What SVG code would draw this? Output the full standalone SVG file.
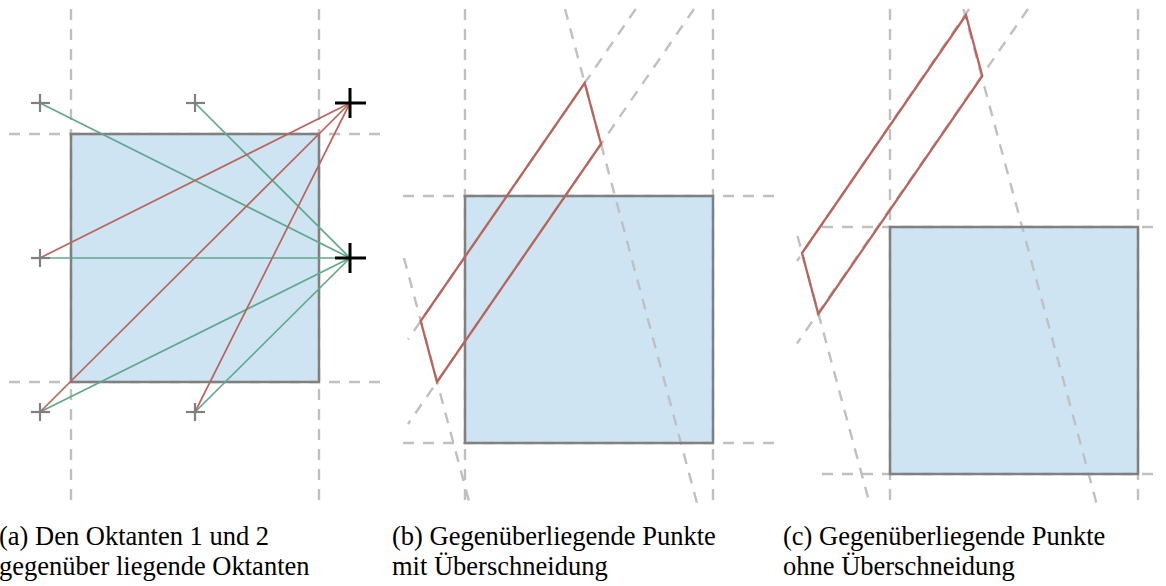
<svg xmlns="http://www.w3.org/2000/svg" width="1166" height="586" viewBox="0 0 1166 586">
<style>
.fill{fill:#cfe4f2;stroke:none}
.box{fill:none;stroke:#808080;stroke-width:2.5}
.dash{fill:none;stroke:#c0c0c0;stroke-width:2.4;stroke-dasharray:11 9}
.red{fill:none;stroke:#b8655c;stroke-width:1.7}
.grn{fill:none;stroke:#5fa98a;stroke-width:1.7}
.poly{fill:none;stroke:#b8655c;stroke-width:2.3;stroke-linejoin:miter}
.sx{stroke:#808080;stroke-width:2.2}
.bx{stroke:#000;stroke-width:3}
.cap{font-family:"Liberation Serif","Times New Roman",serif;font-size:26.5px;fill:#000}
</style>
<rect width="1166" height="586" fill="#fff"/>

<g id="panel-a">
  <rect class="fill" x="71" y="134" width="248" height="248"/>
  <g class="dash">
    <line x1="71" y1="9" x2="71" y2="505"/>
    <line x1="319" y1="9" x2="319" y2="505"/>
    <line x1="9" y1="134" x2="382" y2="134"/>
    <line x1="9" y1="382" x2="382" y2="382"/>
  </g>
  <rect class="box" x="71" y="134" width="248" height="248"/>
  <g id="connectors-a">
    <line class="grn" x1="40" y1="103" x2="350" y2="258"/>
    <line class="grn" x1="195" y1="103" x2="350" y2="258"/>
    <line class="grn" x1="40" y1="258" x2="350" y2="258"/>
    <line class="grn" x1="40" y1="412" x2="350" y2="258"/>
    <line class="grn" x1="195" y1="412" x2="350" y2="258"/>
    <line class="red" x1="350" y1="103" x2="40" y2="258"/>
    <line class="red" x1="350" y1="103" x2="40" y2="412"/>
    <line class="red" x1="350" y1="103" x2="195" y2="412"/>
  </g>
  <g id="p1" class="sx"><line x1="31" y1="103" x2="50" y2="103"/><line x1="40" y1="94" x2="40" y2="112"/></g>
  <g id="p2" class="sx"><line x1="186" y1="103" x2="205" y2="103"/><line x1="195" y1="94" x2="195" y2="112"/></g>
  <g id="p3" class="sx"><line x1="31" y1="258" x2="50" y2="258"/><line x1="40" y1="249" x2="40" y2="267"/></g>
  <g id="p4" class="sx"><line x1="31" y1="412" x2="50" y2="412"/><line x1="40" y1="403" x2="40" y2="421"/></g>
  <g id="p5" class="sx"><line x1="186" y1="412" x2="205" y2="412"/><line x1="195" y1="403" x2="195" y2="421"/></g>
  <g id="q1" class="bx"><line x1="335" y1="103" x2="366" y2="103"/><line x1="350" y1="88" x2="350" y2="118"/></g>
  <g id="q2" class="bx"><line x1="335" y1="258" x2="366" y2="258"/><line x1="350" y1="243" x2="350" y2="273"/></g>
</g>

<g id="panel-b">
  <rect class="fill" x="465" y="196" width="248" height="247"/>
  <g class="dash">
    <line x1="465" y1="9" x2="465" y2="505"/>
    <line x1="713" y1="9" x2="713" y2="505"/>
    <line x1="403" y1="196" x2="777" y2="196"/>
    <line x1="403" y1="443" x2="777" y2="443"/>
    <line x1="694" y1="9" x2="408" y2="424"/>
    <line x1="635.7" y1="9" x2="408" y2="339.5"/>
    <line x1="565" y1="9" x2="697.5" y2="505"/>
    <line x1="404" y1="258" x2="470" y2="505"/>
  </g>
  <rect class="box" x="465" y="196" width="248" height="247"/>
  <polygon id="quad-b" class="poly" points="584.7,83 601,144 437,382 420.7,321"/>
</g>

<g id="panel-c">
  <rect class="fill" x="890" y="227" width="248" height="247"/>
  <g class="dash">
    <line x1="890" y1="9" x2="890" y2="505"/>
    <line x1="1138" y1="9" x2="1138" y2="505"/>
    <line x1="822" y1="227" x2="1157" y2="227"/>
    <line x1="822" y1="474" x2="1157" y2="474"/>
    <line x1="1028" y1="9" x2="797" y2="343.5"/>
    <line x1="969" y1="9" x2="797" y2="261"/>
    <line x1="963.5" y1="9" x2="1097" y2="505"/>
    <line x1="797.5" y1="236" x2="870" y2="505"/>
  </g>
  <rect class="box" x="890" y="227" width="248" height="247"/>
  <polygon id="quad-c" class="poly" points="966,15 982.3,76 818.3,314 802,253"/>
</g>

<g id="captions">
  <text class="cap" x="-1" y="545">(a) Den Oktanten 1 und 2</text>
  <text class="cap" x="-1" y="575">gegenüber liegende Oktanten</text>
  <text class="cap" x="392" y="545">(b) Gegenüberliegende Punkte</text>
  <text class="cap" x="392" y="575">mit Überschneidung</text>
  <text class="cap" x="783" y="545">(c) Gegenüberliegende Punkte</text>
  <text class="cap" x="783" y="575">ohne Überschneidung</text>
</g>
</svg>
